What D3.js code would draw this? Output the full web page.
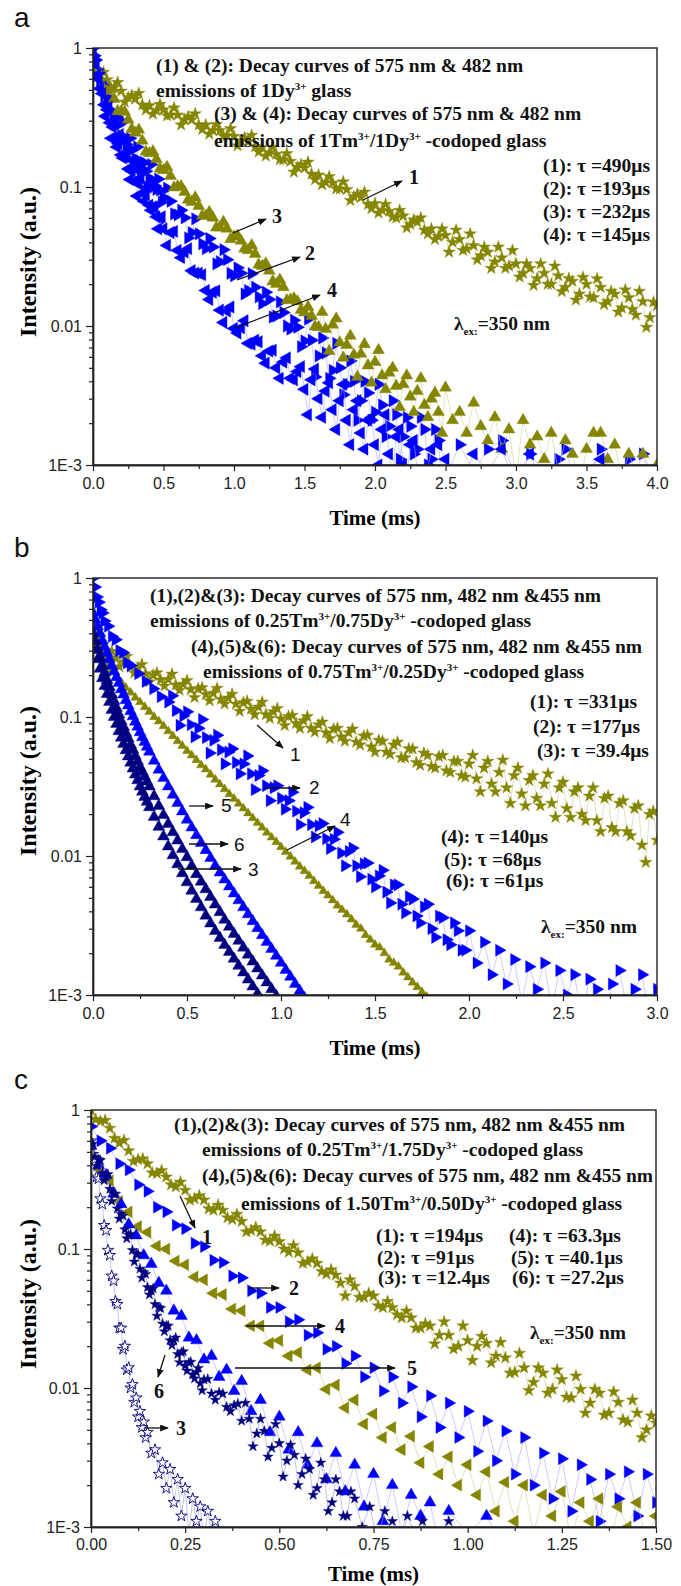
<!DOCTYPE html>
<html>
<head>
<meta charset="utf-8">
<script src="https://cdn.jsdelivr.net/npm/d3@7/dist/d3.min.js"></script>
<style>
  body { margin: 0; background: #fff; }
  svg { display: block; }
</style>
</head>
<body>
<svg id="chart" width="681" height="1586"></svg>
<script>
// ---------- data: time (ms), normalised intensity ----------
const yTickValues = [1e-3, 1e-2, 1e-1, 1];
const yTickLabels = ['1E-3', '0.01', '0.1', '1'];
const xTicksA = [0, 0.5, 1, 1.5, 2, 2.5, 3, 3.5, 4];
const xTicksB = [0, 0.5, 1, 1.5, 2, 2.5, 3];
const xTicksC = [0, 0.25, 0.5, 0.75, 1, 1.25, 1.5];

// panel a
const a1 = [[0,.76],[.05,.64],[.1,.59],[.15,.52],[.2,.49],[.25,.44],[.3,.43],[.35,.39],[.4,.385],[.45,.355],[.5,.36],[.55,.33],[.6,.33],[.65,.305],[.7,.305],[.75,.28],[.8,.28],[.85,.255],[.9,.255],[.95,.235],[1,.232],[1.05,.215],[1.1,.212],[1.15,.195],[1.2,.193],[1.25,.176],[1.3,.172],[1.35,.157],[1.4,.153],[1.45,.139],[1.5,.137],[1.55,.124],[1.6,.122],[1.65,.108],[1.7,.107],[1.75,.097],[1.8,.096],[1.85,.085],[1.9,.084],[1.95,.075],[2,.076],[2.05,.068],[2.1,.067],[2.15,.06],[2.2,.062],[2.25,.054],[2.3,.056],[2.35,.049],[2.4,.05],[2.45,.044],[2.5,.045],[2.55,.04],[2.6,.042],[2.65,.036],[2.7,.038],[2.75,.032],[2.8,.034],[2.85,.029],[2.9,.031],[2.95,.027],[3,.028],[3.05,.024],[3.1,.026],[3.15,.022],[3.2,.024],[3.25,.02],[3.3,.023],[3.35,.019],[3.4,.021],[3.45,.017],[3.5,.02],[3.55,.016],[3.6,.019],[3.65,.015],[3.7,.017],[3.75,.0135],[3.8,.016],[3.85,.012],[3.9,.015],[3.95,.0115],[4,.014]];
const a1b = [[.025,.63],[.075,.67],[.125,.527],[.175,.566],[.225,.409],[.275,.457],[.325,.472],[.375,.359],[.425,.335],[.475,.393],[.525,.326],[.575,.371],[.625,.28],[.675,.321],[.725,.337],[.775,.259],[.825,.241],[.875,.282],[.925,.233],[.975,.263],[1.025,.198],[1.075,.226],[1.125,.236],[1.175,.179],[1.225,.167],[1.275,.193],[1.325,.157],[1.375,.174],[1.425,.128],[1.475,.145],[1.525,.151],[1.575,.113],[1.625,.104],[1.675,.119],[1.725,.097],[1.775,.109],[1.825,.08],[1.875,.089],[1.925,.092],[1.975,.07],[2.025,.065],[2.075,.075],[2.125,.061],[2.175,.068],[2.225,.051],[2.275,.058],[2.325,.06],[2.375,.046],[2.425,.042],[2.475,.05],[2.525,.034],[2.575,.049],[2.625,.035],[2.675,.046],[2.725,.03],[2.775,.037],[2.825,.026],[2.875,.037],[2.925,.026],[2.975,.035],[3.025,.0225],[3.075,.028],[3.125,.0196],[3.175,.028],[3.225,.02],[3.275,.027],[3.325,.0177],[3.375,.022],[3.425,.0154],[3.475,.0224],[3.525,.0162],[3.575,.0219],[3.625,.0143],[3.675,.0178],[3.725,.0126],[3.775,.0182],[3.825,.0132],[3.875,.0178],[3.925,.0098],[3.975,.0149]];
const a2 = [[0,1],[.01,.88],[.02,.82],[.03,.7],[.04,.66],[.05,.57],[.065,.53],[.08,.45],[.1,.43],[.12,.36],[.14,.34],[.16,.29],[.18,.28],[.2,.235],[.225,.225],[.25,.19],[.275,.185],[.3,.16],[.325,.155],[.35,.135],[.375,.13],[.4,.115],[.425,.112],[.45,.096],[.475,.095],[.5,.084],[.55,.079],[.6,.063],[.65,.06],[.7,.047],[.75,.046],[.8,.036],[.85,.037],[.9,.029],[.95,.03],[1,.023],[1.05,.024],[1.1,.018],[1.15,.019],[1.2,.0145],[1.25,.0155],[1.3,.0118],[1.35,.0125],[1.4,.0095],[1.45,.0098],[1.5,.0078],[1.55,.0079],[1.6,.0061],[1.65,.0064],[1.7,.0048],[1.75,.005],[1.8,.0038],[1.85,.004],[1.9,.0029],[1.95,.0033],[2,.0024],[2.05,.0027],[2.1,.0019],[2.15,.0023],[2.2,.0016],[2.25,.0019],[2.3,.0013],[2.35,.0018],[2.4,.0011],[2.45,.0015],[2.5,.0008],[2.6,.0014],[2.7,.0009],[2.8,.0013],[2.9,.0015],[3,.0008],[3.1,.0012],[3.2,.0007],[3.3,.0011],[3.35,.0013],[3.45,.0006],[3.6,.0013],[3.7,.0008],[3.8,.0011],[3.9,.0012],[4,.0007]];
const a2b = [[.0875,.53],[.11,.34],[.13,.426],[.15,.288],[.17,.319],[.19,.21],[.2125,.294],[.2375,.202],[.2625,.224],[.2875,.151],[.3125,.194],[.3375,.133],[.3625,.15],[.3875,.1],[.4125,.145],[.4375,.102],[.4625,.114],[.4875,.078],[.525,.098],[.575,.064],[.625,.068],[.675,.043],[.725,.059],[.775,.039],[.825,.0426],[.875,.028],[.925,.0354],[.975,.0239],[1.025,.0262],[1.075,.017],[1.125,.0238],[1.175,.0162],[1.225,.0175],[1.275,.0116],[1.325,.0149],[1.375,.01],[1.425,.011],[1.475,.0071],[1.525,.0112],[1.575,.0043],[1.625,.0082],[1.675,.0042],[1.725,.0075],[1.775,.0032],[1.825,.0056],[1.875,.0021],[1.925,.004],[1.975,.0021],[2.025,.0038],[2.075,.0016],[2.125,.0029],[2.175,.0011],[2.225,.0022],[2.275,.0012],[2.325,.0022],[2.375,.001],[2.425,.0018],[2.475,.0007]];
const a3 = [[0,.72],[.05,.61],[.1,.49],[.15,.43],[.2,.35],[.25,.305],[.3,.245],[.35,.215],[.4,.175],[.45,.158],[.5,.132],[.55,.12],[.6,.101],[.65,.092],[.7,.078],[.75,.073],[.8,.062],[.85,.06],[.9,.051],[.95,.05],[1,.044],[1.05,.041],[1.1,.035],[1.15,.033],[1.2,.027],[1.25,.025],[1.3,.02],[1.35,.019],[1.4,.0155],[1.45,.015],[1.5,.0125],[1.55,.0118],[1.6,.0098],[1.65,.0095],[1.7,.0102],[1.75,.0076],[1.8,.0073],[1.85,.0062],[1.9,.0063],[1.95,.0052],[2,.0055],[2.05,.0044],[2.1,.0046],[2.15,.0037],[2.2,.0038],[2.25,.0031],[2.3,.0034],[2.35,.0027],[2.4,.003],[2.45,.0024],[2.5,.0036],[2.55,.0021],[2.6,.0024],[2.65,.0017],[2.7,.0028],[2.75,.0019],[2.8,.0015],[2.85,.0022],[2.9,.0013],[2.95,.0018],[3,.0008],[3.05,.0021],[3.1,.0014],[3.15,.0016],[3.2,.0011],[3.25,.0017],[3.3,.0009],[3.35,.0015],[3.4,.0012],[3.45,.0007],[3.5,.0013],[3.55,.0017],[3.6,.0017],[3.65,.0011],[3.7,.0014],[3.75,.0008],[3.8,.0012],[3.85,.0009],[3.9,.0012],[3.95,.0007],[4,.001]];
const a3b = [[.025,.713],[.075,.512],[.125,.506],[.175,.351],[.225,.347],[.275,.261],[.325,.258],[.375,.179],[.425,.18],[.475,.135],[.525,.139],[.575,.099],[.625,.101],[.675,.081],[.725,.084],[.775,.062],[.825,.066],[.875,.051],[.925,.056],[.975,.042],[1.025,.0446],[1.075,.036],[1.125,.038],[1.175,.0276],[1.225,.0281],[1.275,.0209],[1.325,.0215],[1.375,.0153],[1.425,.0158],[1.475,.013],[1.525,.0137],[1.575,.0099],[1.625,.0126],[1.675,.0066],[1.725,.0113],[1.775,.0059],[1.825,.0085],[1.875,.0043],[1.925,.0074],[1.975,.0039],[2.025,.0067],[2.075,.0035],[2.125,.005],[2.175,.0026],[2.225,.0044],[2.275,.0024],[2.325,.0042],[2.375,.0022],[2.425,.0033],[2.475,.0017]];
const a4 = [[0,.95],[.01,.82],[.02,.76],[.03,.64],[.04,.6],[.05,.51],[.065,.47],[.08,.39],[.1,.36],[.12,.29],[.14,.27],[.16,.22],[.18,.205],[.2,.17],[.225,.165],[.25,.135],[.275,.13],[.3,.11],[.325,.105],[.35,.09],[.375,.088],[.4,.074],[.425,.072],[.45,.061],[.475,.06],[.5,.05],[.55,.047],[.6,.035],[.65,.034],[.7,.025],[.75,.024],[.8,.018],[.85,.0175],[.9,.013],[.95,.0128],[1,.0096],[1.05,.0097],[1.1,.0075],[1.15,.0079],[1.2,.0061],[1.25,.0066],[1.3,.005],[1.35,.0055],[1.4,.0042],[1.45,.0047],[1.5,.0035],[1.55,.0041],[1.6,.003],[1.65,.0034],[1.7,.0025],[1.75,.0029],[1.8,.0021],[1.85,.0025],[1.9,.0017],[1.95,.0021],[2,.0014],[2.05,.0018],[2.1,.0012],[2.15,.0016],[2.2,.001],[2.25,.0014],[2.3,.0009],[2.4,.0013],[2.5,.0011],[2.6,.0007],[2.7,.0012],[2.8,.0009],[2.9,.0013],[3,.0007],[3.1,.0012],[3.2,.0009],[3.4,.0008],[3.6,.0011],[3.8,.0007],[4,.0009]];
const a4b = [[.0875,.323],[.11,.374],[.13,.224],[.15,.294],[.17,.194],[.19,.238],[.2125,.162],[.2375,.165],[.2625,.113],[.2875,.138],[.3125,.086],[.3375,.116],[.3625,.079],[.3875,.1],[.4125,.068],[.4375,.072],[.4625,.05],[.4875,.061],[.525,.038],[.575,.048],[.625,.031],[.675,.036],[.725,.024],[.775,.0234],[.825,.0155],[.875,.0179],[.925,.0106],[.975,.0137],[1.025,.0089],[1.075,.0109],[1.125,.0074],[1.175,.0077],[1.225,.0054],[1.275,.0067],[1.325,.0042],[1.375,.0059],[1.425,.0041],[1.475,.0051],[1.525,.0023],[1.575,.0049],[1.625,.0022],[1.675,.0039],[1.725,.0018],[1.775,.0038],[1.825,.0014],[1.875,.0029],[1.925,.0013],[1.975,.0022],[2.025,.001],[2.075,.0023],[2.125,.0008],[2.175,.0018],[2.225,.0008],[2.275,.0015],[2.35,.0007],[2.45,.0014]];

// panel b
const b1 = [[0,.48],[.04,.33],[.08,.29],[.12,.265],[.16,.25],[.2,.228],[.24,.225],[.28,.205],[.32,.2],[.36,.185],[.4,.186],[.44,.17],[.48,.172],[.52,.158],[.56,.16],[.6,.145],[.64,.148],[.68,.134],[.72,.137],[.76,.124],[.8,.127],[.84,.114],[.88,.118],[.92,.104],[.96,.109],[1,.097],[1.04,.101],[1.08,.09],[1.12,.094],[1.16,.083],[1.2,.088],[1.24,.077],[1.28,.082],[1.32,.072],[1.36,.077],[1.4,.066],[1.44,.073],[1.48,.061],[1.52,.068],[1.56,.056],[1.6,.063],[1.64,.051],[1.68,.059],[1.72,.047],[1.76,.055],[1.8,.044],[1.84,.052],[1.88,.041],[1.92,.048],[1.96,.038],[2,.046],[2.04,.036],[2.08,.043],[2.12,.033],[2.16,.04],[2.2,.031],[2.24,.038],[2.28,.028],[2.32,.035],[2.36,.026],[2.4,.033],[2.44,.024],[2.48,.031],[2.52,.022],[2.56,.029],[2.6,.02],[2.64,.027],[2.68,.018],[2.72,.026],[2.76,.016],[2.8,.024],[2.84,.015],[2.88,.022],[2.92,.012],[2.96,.02],[3,.013]];
const b1b = [[.02,.426],[.06,.264],[.1,.297],[.14,.23],[.18,.274],[.22,.207],[.26,.239],[.3,.179],[.34,.208],[.38,.167],[.42,.204],[.46,.156],[.5,.183],[.54,.138],[.58,.163],[.62,.131],[.66,.161],[.7,.124],[.74,.146],[.78,.11],[.82,.13],[.86,.104],[.9,.128],[.94,.098],[.98,.115],[1.02,.087],[1.06,.103],[1.1,.083],[1.14,.101],[1.18,.078],[1.22,.092],[1.26,.07],[1.3,.083],[1.34,.067],[1.38,.082],[1.42,.063],[1.46,.074],[1.5,.056],[1.54,.067],[1.58,.054],[1.62,.066],[1.66,.051],[1.7,.059],[1.74,.045],[1.78,.053],[1.82,.043],[1.86,.053],[1.9,.04],[1.94,.048],[1.98,.037],[2.02,.053],[2.06,.029],[2.1,.048],[2.14,.029],[2.18,.049],[2.22,.024],[2.26,.043],[2.3,.023],[2.34,.038],[2.38,.023],[2.42,.039],[2.46,.019],[2.5,.034],[2.54,.019],[2.58,.031],[2.62,.018],[2.66,.031],[2.7,.015],[2.74,.027],[2.78,.015],[2.82,.025],[2.86,.014],[2.9,.023],[2.94,.009],[2.98,.021]];
const b2 = [[0,1],[.01,.86],[.02,.73],[.03,.67],[.04,.59],[.05,.56],[.06,.49],[.08,.45],[.1,.38],[.12,.36],[.14,.3],[.16,.29],[.18,.245],[.2,.235],[.24,.205],[.28,.18],[.32,.16],[.36,.14],[.4,.128],[.44,.111],[.48,.102],[.52,.088],[.56,.083],[.6,.071],[.64,.068],[.68,.058],[.72,.056],[.76,.047],[.8,.046],[.84,.039],[.88,.038],[.92,.032],[.96,.031],[1,.026],[1.04,.025],[1.08,.021],[1.12,.0205],[1.16,.0168],[1.2,.0165],[1.24,.0133],[1.28,.0132],[1.32,.0105],[1.36,.0108],[1.4,.0085],[1.44,.0088],[1.48,.0068],[1.52,.0072],[1.56,.0055],[1.6,.0062],[1.64,.0045],[1.68,.0051],[1.72,.0037],[1.76,.0043],[1.8,.003],[1.84,.0037],[1.88,.0025],[1.92,.0033],[1.96,.0021],[2,.0029],[2.04,.0017],[2.08,.0024],[2.12,.0014],[2.16,.0021],[2.2,.0012],[2.24,.0018],[2.28,.0009],[2.32,.0016],[2.36,.0011],[2.4,.0017],[2.44,.0008],[2.48,.0015],[2.52,.001],[2.56,.0014],[2.6,.0007],[2.64,.0013],[2.68,.0011],[2.72,.0006],[2.76,.0012],[2.8,.0015],[2.84,.0008],[2.88,.0011],[2.92,.0014],[2.96,.0007],[3,.0011]];
const b2b = [[.42,.142],[.46,.087],[.5,.109],[.54,.072],[.58,.096],[.62,.055],[.66,.074],[.7,.046],[.74,.059],[.78,.039],[.82,.0525],[.86,.03],[.9,.041],[.94,.025],[.98,.032],[1.02,.0217],[1.06,.0288],[1.1,.0168],[1.14,.0224],[1.18,.0137],[1.22,.0171],[1.26,.0113],[1.3,.0148],[1.34,.0085],[1.38,.0114],[1.42,.0071],[1.46,.0089],[1.5,.006],[1.54,.0079],[1.58,.0046],[1.62,.0062],[1.66,.0039],[1.7,.0049],[1.74,.0033],[1.78,.0045],[1.82,.0026],[1.86,.0036],[1.9,.0023],[1.94,.0029],[1.98,.0021]];
const b3 = [[0,.355],[.025,.26],[.05,.19],[.075,.146],[.1,.112],[.125,.089],[.15,.0708],[.175,.0575],[.2,.0468],[.225,.0385],[.25,.0316],[.275,.0266],[.3,.0224],[.325,.0191],[.35,.0162],[.375,.0138],[.4,.0117],[.425,.0101],[.45,.0087],[.475,.0075],[.5,.00646],[.525,.00562],[.55,.0049],[.575,.00427],[.6,.00372],[.625,.00327],[.65,.00288],[.675,.00257],[.7,.00229],[.725,.00204],[.75,.00182],[.775,.00162],[.8,.00145],[.825,.00129],[.85,.00115],[.875,.00102],[.9,.00091]];
const b3b = [[.0125,.305],[.0375,.222],[.0625,.167],[.0875,.128],[.1125,.1],[.1375,.079],[.1625,.064],[.1875,.052],[.2125,.0425],[.2375,.035],[.2625,.029],[.2875,.0245]];
const b4 = [[0,.48],[.01,.42],[.02,.38],[.03,.34],[.04,.31],[.05,.29],[.06,.27],[.07,.255],[.08,.24],[.09,.228],[.1,.218],[.125,.196],[.15,.178],[.175,.162],[.2,.15],[.225,.138],[.25,.128],[.275,.118],[.3,.109],[.325,.1],[.35,.093],[.375,.086],[.4,.079],[.425,.073],[.45,.067],[.475,.062],[.5,.057],[.525,.053],[.55,.049],[.575,.045],[.6,.042],[.625,.0385],[.65,.0355],[.675,.0328],[.7,.0303],[.725,.0279],[.75,.0258],[.775,.0238],[.8,.022],[.825,.0203],[.85,.0187],[.875,.0173],[.9,.016],[.925,.0147],[.95,.0136],[.975,.0126],[1,.0116],[1.025,.0107],[1.05,.0099],[1.075,.0091],[1.1,.0084],[1.125,.0078],[1.15,.0072],[1.175,.0066],[1.2,.0061],[1.225,.0056],[1.25,.0052],[1.275,.0048],[1.3,.0044],[1.325,.0041],[1.35,.0038],[1.375,.0035],[1.4,.0032],[1.425,.003],[1.45,.0027],[1.475,.0025],[1.5,.0023],[1.525,.0022],[1.55,.002],[1.575,.0018],[1.6,.0017],[1.625,.0016],[1.65,.00145],[1.675,.00134],[1.7,.00123],[1.725,.00114],[1.75,.00105],[1.775,.00097],[1.8,.0009]];
const b5 = [[0,.562],[.025,.447],[.05,.355],[.075,.288],[.1,.234],[.125,.193],[.15,.158],[.175,.132],[.2,.11],[.225,.0923],[.25,.0776],[.275,.0661],[.3,.0562],[.325,.0484],[.35,.0417],[.375,.0363],[.4,.0316],[.425,.0275],[.45,.024],[.475,.0209],[.5,.0182],[.525,.016],[.55,.0141],[.575,.0124],[.6,.011],[.625,.00966],[.65,.0085],[.675,.00759],[.7,.00676],[.725,.00603],[.75,.00537],[.775,.00479],[.8,.00427],[.825,.0038],[.85,.00339],[.875,.00302],[.9,.00269],[.925,.0024],[.95,.00214],[.975,.00191],[1,.0017],[1.025,.00151],[1.05,.00135],[1.075,.0012],[1.1,.00107],[1.125,.00095],[1.15,.00085]];
const b5b = [[.0125,.5],[.0375,.4],[.0625,.32],[.0875,.26],[.1125,.212],[.1375,.175],[.1625,.145],[.1875,.121],[.2125,.101],[.2375,.085],[.2625,.0715],[.2875,.061]];
const b6 = [[0,.398],[.025,.305],[.05,.234],[.075,.184],[.1,.145],[.125,.116],[.15,.0933],[.175,.0767],[.2,.0631],[.225,.0525],[.25,.0437],[.275,.0372],[.3,.0316],[.325,.0269],[.35,.0229],[.375,.0197],[.4,.017],[.425,.0148],[.45,.0129],[.475,.0112],[.5,.0098],[.525,.0085],[.55,.0074],[.575,.00653],[.6,.00575],[.625,.00507],[.65,.00447],[.675,.00394],[.7,.00347],[.725,.00309],[.75,.00275],[.775,.00245],[.8,.00219],[.825,.00195],[.85,.00174],[.875,.00155],[.9,.00138],[.925,.00123],[.95,.0011],[.975,.00098],[1,.00087]];
const b6b = [[.0125,.35],[.0375,.268],[.0625,.208],[.0875,.164],[.1125,.13],[.1375,.104],[.1625,.085],[.1875,.07],[.2125,.058],[.2375,.048],[.2625,.0403],[.2875,.0343]];

// panel c
const c1 = [[0,1],[.025,.83],[.05,.74],[.075,.58],[.1,.51],[.125,.44],[.15,.41],[.175,.35],[.2,.33],[.225,.28],[.25,.265],[.275,.23],[.3,.225],[.325,.19],[.35,.19],[.375,.163],[.4,.158],[.425,.136],[.45,.133],[.475,.114],[.5,.113],[.525,.095],[.55,.094],[.575,.081],[.6,.079],[.625,.066],[.65,.065],[.675,.046],[.7,.054],[.725,.045],[.75,.046],[.775,.038],[.8,.038],[.825,.032],[.85,.032],[.875,.027],[.9,.028],[.925,.024],[.95,.024],[.975,.02],[1,.022],[1.025,.02],[1.05,.021],[1.075,.017],[1.1,.0165],[1.125,.013],[1.15,.014],[1.175,.011],[1.2,.0128],[1.225,.0098],[1.25,.0115],[1.275,.0085],[1.3,.0098],[1.325,.0078],[1.35,.0092],[1.375,.0066],[1.4,.0079],[1.425,.0057],[1.45,.0066],[1.475,.005],[1.5,.0056]];
const c1b = [[.0125,.856],[.0375,.842],[.0625,.627],[.0875,.605],[.1125,.428],[.1375,.446],[.1625,.353],[.1875,.367],[.2125,.29],[.2375,.303],[.2625,.225],[.2875,.242],[.3125,.195],[.3375,.207],[.3625,.168],[.3875,.178],[.4125,.133],[.4375,.143],[.4625,.116],[.4875,.124],[.5125,.1],[.5375,.106],[.5625,.079],[.5875,.085],[.6125,.069],[.6375,.071],[.6625,.057],[.6875,.06],[.7125,.045],[.7375,.048],[.7625,.039],[.7875,.042],[.8125,.0337],[.8375,.0358],[.8625,.027],[.8875,.029],[.9125,.0208],[.9375,.03],[.9625,.0191],[.9875,.028],[1.0125,.0158],[1.0375,.0236],[1.0625,.0152],[1.0875,.0213],[1.1125,.0128],[1.1375,.0178],[1.1625,.0096],[1.1875,.014],[1.2125,.0092],[1.2375,.0135],[1.2625,.0086],[1.2875,.0122],[1.3125,.0066],[1.3375,.0098],[1.3625,.0064],[1.3875,.0094],[1.4125,.0059],[1.4375,.0082],[1.4625,.0044],[1.4875,.0063]];
const c2 = [[0,.76],[.025,.6],[.05,.53],[.075,.41],[.1,.37],[.125,.29],[.15,.26],[.175,.2],[.2,.185],[.225,.148],[.25,.14],[.275,.11],[.3,.104],[.325,.083],[.35,.08],[.375,.064],[.4,.062],[.425,.05],[.45,.048],[.475,.038],[.5,.038],[.525,.03],[.55,.031],[.575,.024],[.6,.025],[.625,.019],[.65,.02],[.675,.015],[.7,.017],[.725,.012],[.75,.014],[.775,.0095],[.8,.012],[.825,.0078],[.85,.0102],[.875,.0062],[.9,.0088],[.925,.0052],[.95,.0078],[.975,.0044],[1,.0068],[1.025,.0035],[1.05,.0058],[1.075,.003],[1.1,.0049],[1.125,.0024],[1.15,.0044],[1.175,.002],[1.2,.0034],[1.225,.0016],[1.25,.0031],[1.275,.0013],[1.3,.0028],[1.325,.0022],[1.35,.0011],[1.375,.0024],[1.4,.0016],[1.425,.0025],[1.45,.0012],[1.475,.0024],[1.5,.0015]];
const c3 = [[0,.6],[.005,.48],[.01,.44],[.015,.33],[.02,.32],[.025,.23],[.03,.21],[.035,.148],[.04,.136],[.045,.098],[.05,.09],[.055,.064],[.06,.059],[.065,.042],[.07,.04],[.075,.027],[.08,.027],[.085,.019],[.09,.02],[.095,.0135],[.1,.014],[.105,.01],[.11,.0106],[.115,.0079],[.12,.0085],[.125,.0062],[.13,.0068],[.135,.0052],[.14,.0057],[.145,.0044],[.15,.0048],[.16,.0034],[.17,.0036],[.18,.0024],[.19,.0029],[.2,.0019],[.21,.0026],[.22,.0015],[.23,.0022],[.24,.0012],[.25,.0019],[.26,.0009],[.27,.0016],[.28,.0011],[.29,.0014],[.3,.0008],[.31,.0013],[.32,.0009],[.33,.0011],[.34,.0007],[.35,.0009]];
const c4 = [[0,.5],[.025,.37],[.05,.31],[.075,.22],[.1,.185],[.125,.145],[.15,.132],[.175,.105],[.2,.1],[.225,.082],[.25,.077],[.275,.063],[.3,.06],[.325,.048],[.35,.047],[.375,.037],[.4,.036],[.425,.028],[.45,.028],[.475,.021],[.5,.022],[.525,.017],[.55,.018],[.575,.0135],[.6,.014],[.625,.0098],[.65,.0105],[.675,.0072],[.7,.0082],[.725,.0055],[.75,.0065],[.775,.0044],[.8,.0052],[.825,.0036],[.85,.0045],[.875,.0029],[.9,.0038],[.925,.0024],[.95,.0032],[.975,.002],[1,.0028],[1.025,.0017],[1.05,.0025],[1.075,.0013],[1.1,.0021],[1.125,.0011],[1.15,.002],[1.175,.0009],[1.2,.0017],[1.225,.0012],[1.25,.0018],[1.275,.0008],[1.3,.0015],[1.325,.0011],[1.35,.0016],[1.375,.0007],[1.4,.0014],[1.425,.001],[1.45,.0015],[1.475,.0008],[1.5,.0012]];
const c5 = [[0,.55],[.02,.4],[.04,.34],[.06,.25],[.08,.21],[.1,.15],[.12,.125],[.14,.09],[.16,.078],[.18,.057],[.2,.05],[.22,.036],[.24,.033],[.26,.023],[.28,.022],[.3,.016],[.32,.017],[.34,.012],[.36,.0135],[.38,.0095],[.4,.0112],[.425,.0068],[.45,.0082],[.475,.0048],[.5,.0062],[.525,.0036],[.55,.0048],[.575,.0028],[.6,.004],[.625,.0022],[.65,.0034],[.675,.0018],[.7,.0028],[.725,.0014],[.75,.0024],[.775,.0011],[.8,.002],[.825,.0009],[.85,.0017],[.875,.0012],[.9,.0015],[.925,.0007],[.95,.0013],[1,.0009],[1.05,.0012],[1.1,.0007]];
const c6 = [[0,.55],[.01,.46],[.02,.44],[.03,.35],[.04,.33],[.05,.27],[.06,.25],[.07,.195],[.08,.178],[.09,.138],[.1,.126],[.11,.098],[.12,.092],[.13,.072],[.14,.068],[.15,.053],[.16,.05],[.17,.04],[.18,.038],[.19,.029],[.2,.028],[.21,.022],[.22,.022],[.23,.0175],[.24,.018],[.25,.0145],[.26,.0152],[.27,.0125],[.28,.013],[.29,.0108],[.3,.0115],[.32,.0091],[.34,.0093],[.36,.0073],[.38,.0075],[.4,.0058],[.42,.006],[.44,.0047],[.46,.0049],[.48,.0037],[.5,.004],[.52,.003],[.54,.0033],[.56,.0024],[.58,.0026],[.6,.0019],[.62,.0022],[.64,.0015],[.66,.0018],[.68,.0012],[.7,.0016],[.72,.001],[.74,.0014],[.76,.0008],[.78,.0013],[.8,.0011],[.82,.0007],[.84,.0012],[.86,.0009],[.88,.0011],[.9,.0006],[.95,.0011],[1,.0007]];
const c6b = [[.005,.571],[.015,.396],[.025,.435],[.035,.311],[.045,.345],[.055,.221],[.065,.249],[.075,.165],[.085,.173],[.095,.119],[.105,.128],[.115,.081],[.125,.092],[.135,.062],[.145,.066],[.155,.047],[.165,.052],[.175,.033],[.185,.0375],[.195,.0255],[.205,.028],[.215,.0203],[.225,.023],[.235,.0153],[.245,.0183],[.255,.0133],[.265,.0154],[.275,.0117],[.285,.0139],[.295,.0096],[.31,.0116],[.33,.0082],[.35,.0091],[.37,.0068],[.39,.0077],[.41,.0078],[.43,.0038],[.45,.006],[.47,.0032],[.49,.0055],[.51,.0023],[.53,.0039],[.55,.002],[.57,.0031],[.59,.0017],[.61,.0029],[.63,.0013],[.65,.0022],[.67,.0012],[.69,.0018]];

// ---------- styling ----------
const olive = '#858500', blue = '#0000ff', navy = '#000080';
const lineCol = { [olive]: '#cfcf96', [blue]: '#aaaaff', [navy]: '#9c9cd0' };
const serif = '"Liberation Serif", "Times New Roman", serif';
const sans = '"Liberation Sans", Arial, sans-serif';
const STAR = d3.symbolStar, TRI = d3.symbolTriangle;
const merge = (...arrs) => d3.sort([].concat(...arrs), d => d[0]);

const sup = s => [s, 'sup'], sub = s => [s, 'sub'];
const lam = ['λ', sub('ex:'), '=350 nm'];

const panels = [
  {
    letter: 'a', letterY: 27, left: 93, right: 657, top: 48, bottom: 465, xMax: 4,
    xTicks: xTicksA, fmt: d3.format('.1f'), labPad: 7, titleY: 525, ylabY: 262,
    series: [
      { data: merge(a1, a1b), color: olive, type: STAR, size: 48 },
      { data: merge(a2, a2b), color: blue, type: TRI, size: 66, rot: 90 },
      { data: merge(a3, a3b), color: olive, type: TRI, size: 62 },
      { data: merge(a4, a4b), color: blue, type: TRI, size: 66, rot: -90 }
    ],
    texts: [
      { x: 156, y: 65, parts: ['(1) & (2): Decay curves of 575 nm & 482 nm'] },
      { x: 156, y: 90, parts: ['emissions of 1Dy', sup('3+'), ' glass'] },
      { x: 214, y: 113, parts: ['(3) & (4): Decay curves of 575 nm & 482 nm'] },
      { x: 214, y: 140, parts: ['emissions of 1Tm', sup('3+'), '/1Dy', sup('3+'), ' -codoped glass'] },
      { x: 650, y: 165, anchor: 'end', parts: ['(1): τ =490μs'] },
      { x: 650, y: 188, anchor: 'end', parts: ['(2): τ =193μs'] },
      { x: 650, y: 211, anchor: 'end', parts: ['(3): τ =232μs'] },
      { x: 650, y: 234, anchor: 'end', parts: ['(4): τ =145μs'] },
      { x: 454, y: 323, parts: lam }
    ],
    arrows: [
      { x1: 363, y1: 200, x2: 402, y2: 181, label: '1', lx: 409, ly: 177 },
      { x1: 233, y1: 233, x2: 266, y2: 219, label: '3', lx: 272, ly: 216 },
      { x1: 237, y1: 280, x2: 300, y2: 257, label: '2', lx: 305, ly: 253 },
      { x1: 235, y1: 328, x2: 320, y2: 295, label: '4', lx: 327, ly: 290 }
    ]
  },
  {
    letter: 'b', letterY: 557, left: 93, right: 657, top: 578, bottom: 995, xMax: 3,
    xTicks: xTicksB, fmt: d3.format('.1f'), labPad: 7, titleY: 1055, ylabY: 781, sansLabels: true,
    series: [
      { data: merge(b1, b1b), color: olive, type: STAR, size: 48 },
      { data: merge(b2, b2b), color: blue, type: TRI, size: 64, rot: 90 },
      { data: merge(b3, b3b), color: navy, type: TRI, size: 62 },
      { data: b4, color: olive, type: TRI, size: 36 },
      { data: merge(b5, b5b), color: blue, type: TRI, size: 60 },
      { data: merge(b6, b6b), color: navy, type: TRI, size: 62 }
    ],
    texts: [
      { x: 150, y: 595, parts: ['(1),(2)&(3): Decay curves of 575 nm, 482 nm &455 nm'] },
      { x: 150, y: 620, parts: ['emissions of 0.25Tm', sup('3+'), '/0.75Dy', sup('3+'), ' -codoped glass'] },
      { x: 191, y: 646, parts: ['(4),(5)&(6): Decay curves of 575 nm, 482 nm &455 nm'] },
      { x: 203, y: 671, parts: ['emissions of 0.75Tm', sup('3+'), '/0.25Dy', sup('3+'), ' -codoped glass'] },
      { x: 530, y: 701, parts: ['(1): τ =331μs'] },
      { x: 533, y: 726, parts: ['(2): τ =177μs'] },
      { x: 537, y: 750, parts: ['(3): τ =39.4μs'] },
      { x: 441, y: 836, parts: ['(4): τ =140μs'] },
      { x: 444, y: 859, parts: ['(5): τ =68μs'] },
      { x: 446, y: 880, parts: ['(6): τ =61μs'] },
      { x: 541, y: 926, parts: lam }
    ],
    arrows: [
      { x1: 257, y1: 725, x2: 283, y2: 748, label: '1', lx: 290, ly: 755 },
      { x1: 264, y1: 788, x2: 300, y2: 788, label: '2', lx: 309, ly: 788 },
      { x1: 189, y1: 806, x2: 213, y2: 806, label: '5', lx: 221, ly: 806 },
      { x1: 189, y1: 844, x2: 228, y2: 844, label: '6', lx: 234, ly: 845 },
      { x1: 178, y1: 869, x2: 241, y2: 869, label: '3', lx: 248, ly: 870 },
      { x1: 287, y1: 850, x2: 335, y2: 826, label: '4', lx: 340, ly: 820 }
    ]
  },
  {
    letter: 'c', letterY: 1089, left: 91, right: 656, top: 1110, bottom: 1527, xMax: 1.5,
    xTicks: xTicksC, fmt: d3.format('.2f'), labPad: 6, titleY: 1581, ylabY: 1294,
    series: [
      { data: merge(c1, c1b), color: olive, type: STAR, size: 48 },
      { data: c2, color: blue, type: TRI, size: 62, rot: 90 },
      { data: c3, color: navy, type: STAR, size: 40, hollow: true },
      { data: c4, color: olive, type: TRI, size: 62, rot: -90 },
      { data: c5, color: blue, type: TRI, size: 62 },
      { data: merge(c6, c6b), color: navy, type: STAR, size: 34 }
    ],
    texts: [
      { x: 174, y: 1124, parts: ['(1),(2)&(3): Decay curves of 575 nm, 482 nm &455 nm'] },
      { x: 202, y: 1149, parts: ['emissions of 0.25Tm', sup('3+'), '/1.75Dy', sup('3+'), ' -codoped glass'] },
      { x: 202, y: 1175, parts: ['(4),(5)&(6): Decay curves of 575 nm, 482 nm &455 nm'] },
      { x: 241, y: 1203, parts: ['emissions of 1.50Tm', sup('3+'), '/0.50Dy', sup('3+'), ' -codoped glass'] },
      { x: 376, y: 1235, parts: ['(1): τ =194μs'] },
      { x: 509, y: 1235, parts: ['(4): τ =63.3μs'] },
      { x: 377, y: 1257, parts: ['(2): τ =91μs'] },
      { x: 511, y: 1257, parts: ['(5): τ =40.1μs'] },
      { x: 378, y: 1277, parts: ['(3): τ =12.4μs'] },
      { x: 512, y: 1277, parts: ['(6): τ =27.2μs'] },
      { x: 530, y: 1332, parts: lam }
    ],
    arrows: [
      { x1: 180, y1: 1196, x2: 195, y2: 1228, label: '1', lx: 202, ly: 1237 },
      { x1: 248, y1: 1288, x2: 279, y2: 1288, label: '2', lx: 289, ly: 1288 },
      { x1: 246, y1: 1326, x2: 325, y2: 1326, label: '4', lx: 335, ly: 1326 },
      { x1: 235, y1: 1368, x2: 395, y2: 1368, label: '5', lx: 407, ly: 1368 },
      { x1: 165, y1: 1355, x2: 158, y2: 1377, label: '6', lx: 154, ly: 1391 },
      { x1: 145, y1: 1428, x2: 168, y2: 1428, label: '3', lx: 176, ly: 1428 }
    ]
  }
];

// ---------- drawing ----------
const svg = d3.select('#chart');
const defs = svg.append('defs');
defs.append('marker')
  .attr('id', 'head')
  .attr('viewBox', '0 0 10 8')
  .attr('refX', 9).attr('refY', 4)
  .attr('markerWidth', 9).attr('markerHeight', 7)
  .attr('markerUnits', 'userSpaceOnUse')
  .attr('orient', 'auto')
  .append('path').attr('d', 'M0,0L10,4L0,8Z').attr('fill', '#111');

function addText(g, t, size, family, weight) {
  const el = g.append('text')
    .attr('x', t.x).attr('y', t.y + size * 0.34)
    .attr('text-anchor', t.anchor || 'start')
    .style('font-family', family).style('font-weight', weight)
    .style('font-size', size + 'px').attr('fill', '#111');
  let shift = 0;
  t.parts.forEach(p => {
    const [str, kind] = typeof p === 'string' ? [p, null] : p;
    const want = kind === 'sup' ? -7 : kind === 'sub' ? 5 : 0;
    el.append('tspan')
      .attr('dy', want - shift)
      .style('font-size', kind ? '11px' : null)
      .text(str);
    shift = want;
  });
}

panels.forEach((p, pi) => {
  const g = svg.append('g');
  const x = d3.scaleLinear().domain([0, p.xMax]).range([p.left, p.right]);
  const y = d3.scaleLog().domain([1e-3, 1]).range([p.bottom, p.top]);

  const clipId = 'clip' + pi;
  defs.append('clipPath').attr('id', clipId)
    .append('rect')
    .attr('x', p.left).attr('y', p.top)
    .attr('width', p.right - p.left).attr('height', p.bottom - p.top);

  const plot = g.append('g').attr('clip-path', `url(#${clipId})`);
  const line = d3.line().x(d => x(d[0])).y(d => y(d[1]));

  p.series.forEach(s => {
    plot.append('path')
      .attr('d', line(s.data))
      .attr('fill', 'none')
      .attr('stroke', lineCol[s.color])
      .attr('stroke-width', 0.6);
    const shape = d3.symbol().type(s.type).size(s.size)();
    plot.append('g').selectAll('path')
      .data(s.data)
      .join('path')
      .attr('d', shape)
      .attr('transform', d => `translate(${x(d[0])},${y(d[1])}) rotate(${s.rot || 0})`)
      .attr('fill', s.hollow ? '#fff' : s.color)
      .attr('stroke', s.color)
      .attr('stroke-width', s.hollow ? 0.9 : 0.4);
  });

  // frame
  g.append('rect')
    .attr('x', p.left).attr('y', p.top)
    .attr('width', p.right - p.left).attr('height', p.bottom - p.top)
    .attr('fill', 'none').attr('stroke', '#222').attr('stroke-width', 1.4);

  // x axis
  const xMinor = d3.pairs(p.xTicks).map(([a, b]) => (a + b) / 2);
  g.append('g').attr('transform', `translate(0,${p.bottom})`)
    .call(d3.axisBottom(x).tickValues(p.xTicks).tickFormat(p.fmt)
      .tickSize(6).tickSizeOuter(0).tickPadding(p.labPad));
  g.append('g').attr('transform', `translate(0,${p.bottom})`)
    .call(d3.axisBottom(x).tickValues(xMinor).tickFormat('').tickSize(4).tickSizeOuter(0));

  // y axis
  const yMinor = [];
  yTickValues.slice(0, 3).forEach(v => d3.range(2, 10).forEach(k => yMinor.push(v * k)));
  g.append('g').attr('transform', `translate(${p.left},0)`)
    .call(d3.axisLeft(y).tickValues(yTickValues)
      .tickFormat((d, i) => yTickLabels[i]).tickSize(7).tickSizeOuter(0).tickPadding(4));
  g.append('g').attr('transform', `translate(${p.left},0)`)
    .call(d3.axisLeft(y).tickValues(yMinor).tickFormat('').tickSize(4).tickSizeOuter(0));

  g.selectAll('.domain').attr('stroke', '#222').attr('stroke-width', 1.4);
  g.selectAll('.tick line').attr('stroke', '#222').attr('stroke-width', 1.2);
  g.selectAll('.tick text')
    .style('font-family', sans).style('font-size', '16px').attr('fill', '#222');

  // axis titles
  g.append('text')
    .attr('x', (p.left + p.right) / 2).attr('y', p.titleY)
    .attr('text-anchor', 'middle')
    .style('font-family', serif).style('font-weight', 'bold').style('font-size', '21px')
    .text('Time (ms)');
  g.append('text')
    .attr('transform', `translate(28,${p.ylabY}) rotate(-90)`)
    .attr('text-anchor', 'middle').attr('dominant-baseline', 'central')
    .style('font-family', serif).style('font-weight', 'bold').style('font-size', '24px')
    .text('Intensity (a.u.)');

  // panel letter
  g.append('text').attr('x', 14).attr('y', p.letterY)
    .style('font-family', sans).style('font-size', '28px').attr('fill', '#111')
    .text(p.letter);

  // annotations
  p.texts.forEach(t => addText(g, t, 19.5, serif, 'bold'));

  p.arrows.forEach(a => {
    g.append('line')
      .attr('x1', a.x1).attr('y1', a.y1).attr('x2', a.x2).attr('y2', a.y2)
      .attr('stroke', '#111').attr('stroke-width', 1.3)
      .attr('marker-end', 'url(#head)');
    const t = { x: a.lx, y: a.ly, parts: [a.label] };
    if (p.sansLabels) addText(g, t, 19, sans, 'normal');
    else addText(g, t, 20, serif, 'bold');
  });
});
</script>
</body>
</html>
